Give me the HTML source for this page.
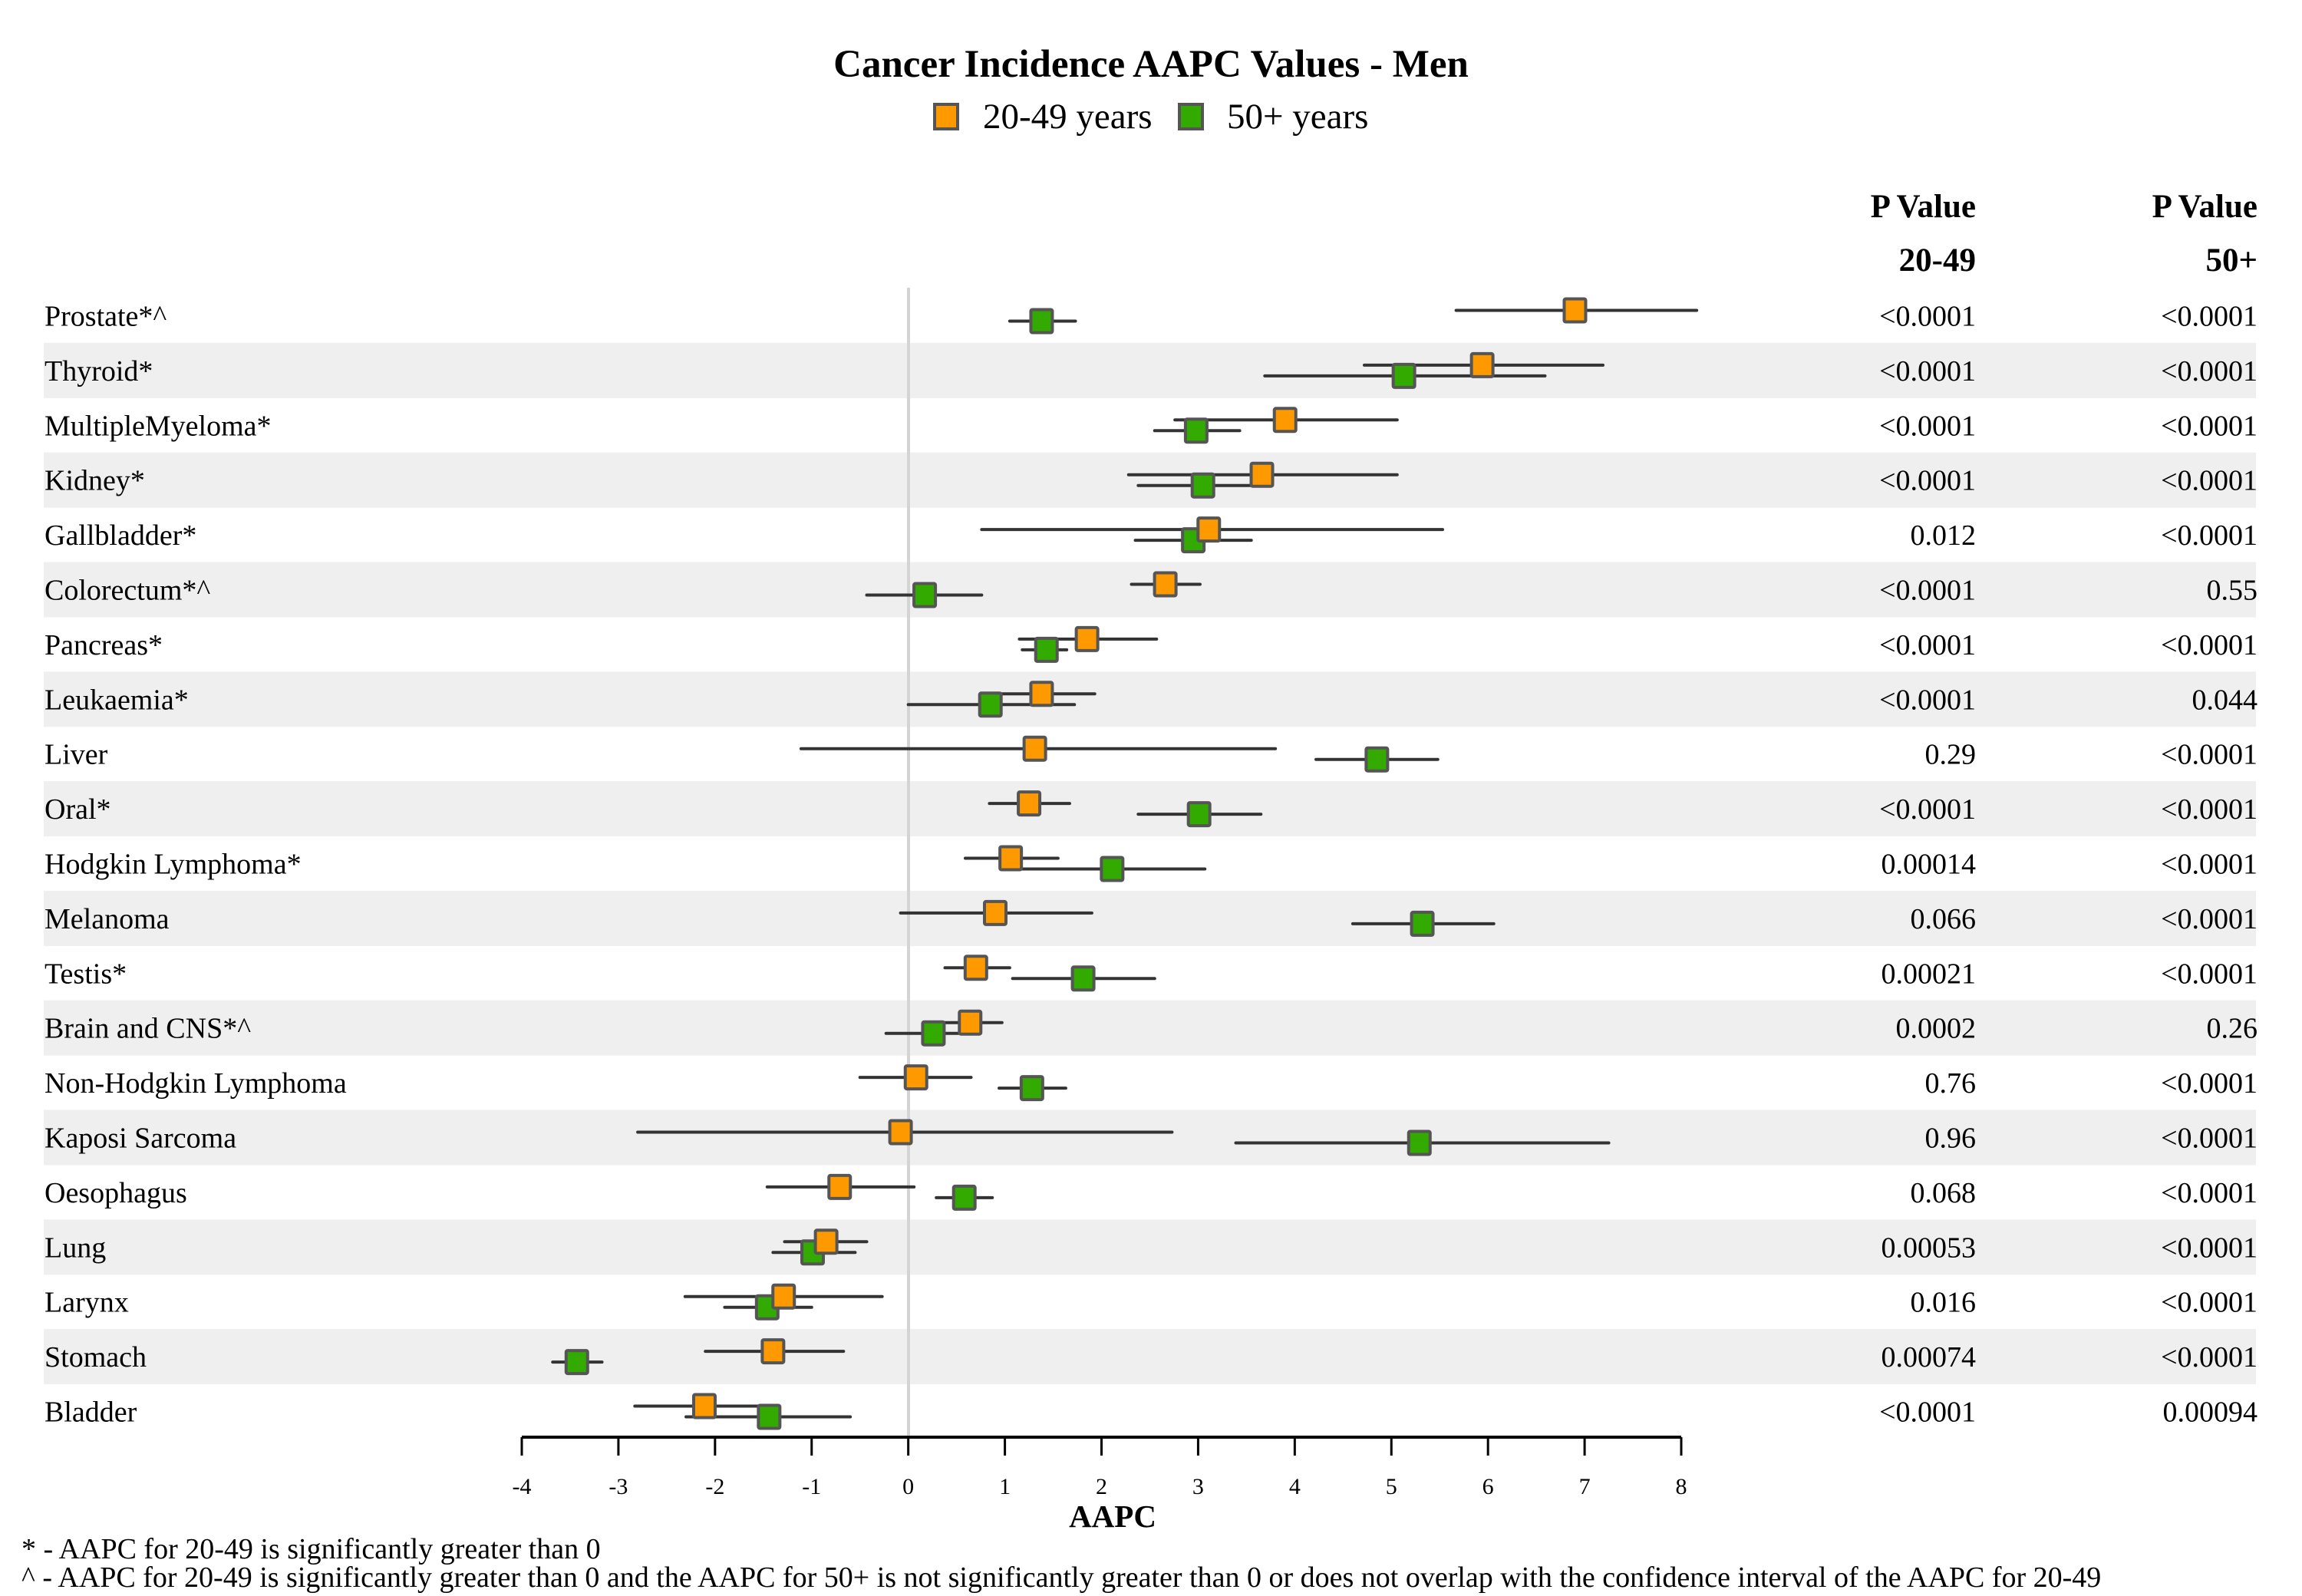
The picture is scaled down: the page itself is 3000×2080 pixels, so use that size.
<!DOCTYPE html>
<html><head><meta charset="utf-8"><style>
html,body{margin:0;padding:0;background:#fff;}
svg{display:block;font-family:"Liberation Serif",serif;}
</style></head><body>
<svg id="chart" width="3000" height="2080" viewBox="0 0 3000 2080" xmlns="http://www.w3.org/2000/svg">
<g id="bands"></g>
<line x1="1184" y1="375" x2="1184" y2="1873" stroke="#d4d4d4" stroke-width="4"/>
<text x="1500" y="100" text-anchor="middle" font-size="51" font-weight="bold">Cancer Incidence AAPC Values - Men</text>
<g>
<rect x="1218" y="136" width="30" height="32" fill="#ff9900" stroke="#555" stroke-width="4"/>
<text x="1281" y="167" font-size="47">20-49 years</text>
<rect x="1537" y="136" width="30" height="32" fill="#33aa00" stroke="#555" stroke-width="4"/>
<text x="1599" y="167" font-size="47">50+ years</text>
</g>
<text x="2575" y="283" text-anchor="end" font-size="43" font-weight="bold">P Value</text>
<text x="2575" y="353" text-anchor="end" font-size="43" font-weight="bold">20-49</text>
<text x="2942" y="283" text-anchor="end" font-size="43" font-weight="bold">P Value</text>
<text x="2942" y="353" text-anchor="end" font-size="43" font-weight="bold">50+</text>
<g id="rows"></g>
<g id="axis"></g>
<text x="1450" y="1990" text-anchor="middle" font-size="41" font-weight="bold">AAPC</text>
<text x="28" y="2031" font-size="38">* - AAPC for 20-49 is significantly greater than 0</text>
<text x="28" y="2068" font-size="38">^ - AAPC for 20-49 is significantly greater than 0 and the AAPC for 50+ is not significantly greater than 0 or does not overlap with the confidence interval of the AAPC for 20-49</text>
</svg>
<script>
const categories=["Prostate*^","Thyroid*","MultipleMyeloma*","Kidney*","Gallbladder*","Colorectum*^","Pancreas*","Leukaemia*","Liver","Oral*","Hodgkin Lymphoma*","Melanoma","Testis*","Brain and CNS*^","Non-Hodgkin Lymphoma","Kaposi Sarcoma","Oesophagus","Lung","Larynx","Stomach","Bladder"];
const young=[6.9,5.94,3.9,3.66,3.11,2.66,1.85,1.38,1.31,1.25,1.06,0.9,0.7,0.64,0.08,-0.08,-0.71,-0.85,-1.29,-1.4,-2.11];
const youngLo=[5.67,4.72,2.76,2.28,0.76,2.31,1.15,0.85,-1.11,0.84,0.59,-0.08,0.38,0.32,-0.5,-2.8,-1.46,-1.28,-2.31,-2.1,-2.83];
const youngHi=[8.16,7.19,5.06,5.06,5.53,3.02,2.57,1.93,3.8,1.67,1.55,1.9,1.05,0.97,0.65,2.73,0.06,-0.43,-0.27,-0.67,-1.35];
const old=[1.38,5.13,2.98,3.05,2.95,0.17,1.43,0.85,4.85,3.01,2.11,5.32,1.81,0.26,1.28,5.29,0.58,-0.99,-1.46,-3.43,-1.44];
const oldLo=[1.05,3.69,2.55,2.38,2.35,-0.43,1.18,0,4.22,2.38,1.15,4.6,1.08,-0.23,0.94,3.39,0.29,-1.4,-1.9,-3.68,-2.3];
const oldHi=[1.73,6.59,3.43,3.71,3.55,0.76,1.64,1.72,5.48,3.65,3.07,6.06,2.55,0.74,1.63,7.25,0.87,-0.55,-1.0,-3.17,-0.6];
const pYoung=["<0.0001","<0.0001","<0.0001","<0.0001","0.012","<0.0001","<0.0001","<0.0001","0.29","<0.0001","0.00014","0.066","0.00021","0.0002","0.76","0.96","0.068","0.00053","0.016","0.00074","<0.0001"];
const pOld=["<0.0001","<0.0001","<0.0001","<0.0001","<0.0001","0.55","<0.0001","0.044","<0.0001","<0.0001","<0.0001","<0.0001","<0.0001","0.26","<0.0001","<0.0001","<0.0001","<0.0001","<0.0001","<0.0001","0.00094"];
const ticks=[-4,-3,-2,-1,0,1,2,3,4,5,6,7,8];

const NS="http://www.w3.org/2000/svg";
const x=v=>680+(v+4)*(2191-680)/12;
const y=i=>411.5+i*71.4;
function mk(tag,attrs,parent,txt){const e=document.createElementNS(NS,tag);for(const k in attrs)e.setAttribute(k,attrs[k]);if(txt!==undefined)e.textContent=txt;parent.appendChild(e);return e;}
const bands=document.getElementById('bands'),rows=document.getElementById('rows'),axis=document.getElementById('axis');
categories.forEach((c,i)=>{
  if(i%2===1){const b=mk('rect',{x:57,y:y(i)-36,width:2883,height:72,fill:'#efefef'},bands);
    
    }
  const g=mk('g',{},rows);
  
  
  const t=mk('text',{x:58,y:y(i)+13,'font-size':38},g,c);
  
  
  const p1=mk('text',{x:2575,y:y(i)+13,'font-size':38,'text-anchor':'end'},g,pYoung[i]);
  
  
  const p2=mk('text',{x:2942,y:y(i)+13,'font-size':38,'text-anchor':'end'},g,pOld[i]);
  
  
  const yo=y(i)-7, yg=y(i)+7;
  const l1=mk('line',{x1:x(youngLo[i]),x2:x(youngHi[i]),y1:yo,y2:yo,stroke:'#333','stroke-width':4,'stroke-linecap':'round'},g);
  
  
  const l2=mk('line',{x1:x(oldLo[i]),x2:x(oldHi[i]),y1:yg,y2:yg,stroke:'#333','stroke-width':4,'stroke-linecap':'round'},g);
  
  
  const m2=mk('rect',{x:x(old[i])-14,y:yg-15,width:28,height:30,fill:'#33aa00',stroke:'#555','stroke-width':4,rx:2},g);
  
  
  const m1=mk('rect',{x:x(young[i])-14,y:yo-15,width:28,height:30,fill:'#ff9900',stroke:'#555','stroke-width':4,rx:2},g);
  
  
});
const al=mk('line',{x1:x(-4),x2:x(8),y1:1873,y2:1873,stroke:'#000','stroke-width':4},axis);


ticks.forEach(t=>{
  const tk=mk('line',{x1:x(t),x2:x(t),y1:1873,y2:1897,stroke:'#000','stroke-width':3},axis);
  
  
  const tl=mk('text',{x:x(t),y:1947,'font-size':30,'text-anchor':'middle'},axis,String(t));
  
  
});
</script>
</body></html>
